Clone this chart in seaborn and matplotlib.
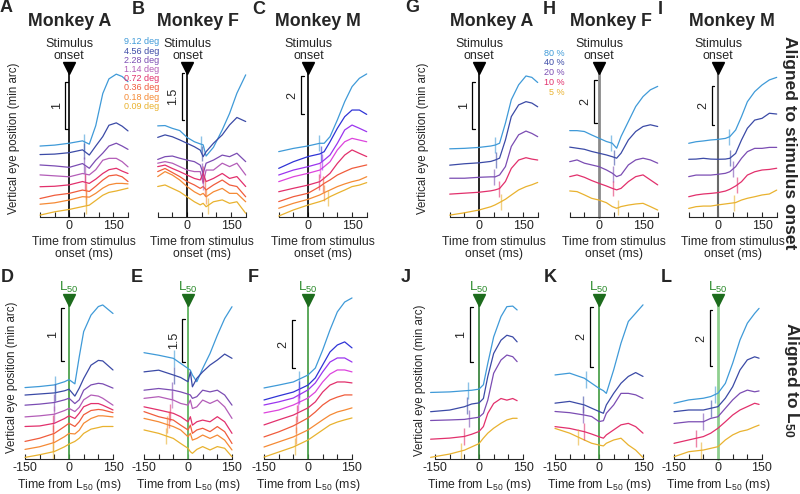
import numpy as np
import pandas as pd
import matplotlib
matplotlib.use("Agg")
import matplotlib.pyplot as plt
import seaborn as sns

sns.set_style("ticks")
plt.rcParams['font.family'] = ['Liberation Sans', 'DejaVu Sans']
plt.rcParams['mathtext.default'] = 'regular'

# ---------------- data (min arc, traces offset vertically as in the figure) -------------
size_labels = ["9.12 deg", "4.56 deg", "2.28 deg", "1.14 deg", "0.72 deg", "0.36 deg", "0.18 deg", "0.09 deg"]
contrast_labels = ["80 %", "40 %", "20 %", "10 %", "5 %"]

A_t = [-100, -50, 0, 45, 68, 90, 114, 135, 160, 180, 200]
A_vals = [
    [1.50, 1.52, 1.56, 1.61, 1.54, 1.93, 2.61, 2.92, 3.02, 2.97, 2.86],
    [1.32, 1.33, 1.36, 1.42, 1.31, 1.50, 1.70, 1.94, 1.99, 1.92, 1.82],
    [1.10, 1.08, 1.05, 1.13, 1.03, 1.20, 1.35, 1.50, 1.56, 1.50, 1.43],
    [0.89, 0.87, 0.85, 0.92, 0.89, 1.00, 1.20, 1.24, 1.24, 1.17, 1.06],
    [0.64, 0.65, 0.68, 0.75, 0.71, 0.80, 0.92, 1.00, 1.03, 0.97, 0.92],
    [0.39, 0.46, 0.50, 0.57, 0.54, 0.65, 0.78, 0.87, 0.89, 0.85, 0.75],
    [0.27, 0.30, 0.36, 0.43, 0.42, 0.50, 0.61, 0.68, 0.71, 0.71, 0.70],
    [0.04, 0.11, 0.16, 0.22, 0.25, 0.35, 0.46, 0.52, 0.55, 0.58, 0.61],
]
A_lat = [51, 51, 51, 53, 55, 56, 57, 57]

B_t = [-100, -75, -50, -25, 0, 25, 45, 55, 65, 90, 120, 145, 170, 200]
B_vals = [
    [2.93, 2.94, 2.85, 2.78, 2.56, 2.42, 2.35, 2.32, 1.96, 2.24, 2.80, 3.33, 3.98, 4.57],
    [2.56, 2.64, 2.58, 2.48, 2.37, 2.26, 2.15, 1.94, 2.10, 2.37, 2.64, 2.96, 3.20, 3.07],
    [1.85, 1.94, 1.96, 1.89, 1.83, 1.78, 1.67, 1.40, 1.73, 1.83, 1.99, 1.94, 2.05, 1.78],
    [1.73, 1.78, 1.73, 1.62, 1.51, 1.46, 1.46, 1.08, 1.51, 1.51, 1.73, 1.62, 1.73, 1.35],
    [1.62, 1.67, 1.56, 1.46, 1.35, 1.24, 1.19, 1.40, 1.14, 1.24, 1.40, 1.24, 1.30, 0.98],
    [1.46, 1.56, 1.43, 1.30, 1.14, 1.03, 0.92, 0.98, 0.87, 1.03, 1.19, 1.03, 0.98, 0.65],
    [1.30, 1.46, 1.35, 1.19, 0.98, 0.81, 0.71, 0.76, 0.65, 0.81, 0.92, 0.76, 0.76, 0.49],
    [0.98, 1.03, 0.92, 0.81, 0.65, 0.49, 0.39, 0.44, 0.33, 0.49, 0.55, 0.44, 0.49, 0.12],
]
B_lat = [47, 50, 52, 54, 56, 60, 64, 70]

C_t = [-100, -50, 0, 40, 55, 75, 100, 125, 150, 175, 200]
C_vals = [
    [3.44, 3.61, 3.74, 3.88, 3.88, 4.23, 5.11, 6.07, 6.86, 7.30, 7.53],
    [2.56, 2.91, 3.18, 3.32, 3.44, 3.96, 4.67, 5.28, 5.63, 5.63, 5.40],
    [2.21, 2.47, 2.65, 2.82, 3.00, 3.26, 3.88, 4.58, 4.84, 4.67, 4.49],
    [1.86, 2.12, 2.30, 2.47, 2.65, 2.91, 3.53, 3.96, 4.14, 4.05, 3.96],
    [1.33, 1.51, 1.68, 1.86, 2.04, 2.30, 2.82, 3.26, 3.53, 3.35, 3.18],
    [0.81, 1.07, 1.25, 1.60, 1.77, 1.95, 2.21, 2.39, 2.56, 2.65, 2.74],
    [0.46, 0.72, 0.93, 1.16, 1.28, 1.42, 1.60, 1.74, 1.86, 1.95, 2.12],
    [0.05, 0.37, 0.63, 0.81, 0.89, 1.07, 1.25, 1.42, 1.60, 1.68, 1.81],
]
C_lat = [39, 43, 47, 41, 39, 52, 55, 69]

G_t = [-100, -50, 0, 40, 55, 70, 90, 110, 135, 160, 180, 200]
G_vals = [
    [1.46, 1.47, 1.49, 1.52, 1.54, 1.58, 2.01, 2.51, 2.83, 3.02, 2.99, 2.88],
    [1.11, 1.14, 1.16, 1.19, 1.22, 1.26, 1.65, 2.15, 2.40, 2.47, 2.44, 2.36],
    [0.83, 0.83, 0.85, 0.86, 0.86, 0.90, 1.08, 1.51, 1.76, 1.84, 1.79, 1.72],
    [0.49, 0.51, 0.53, 0.56, 0.58, 0.61, 0.76, 1.04, 1.22, 1.27, 1.24, 1.22],
    [0.04, 0.09, 0.15, 0.22, 0.26, 0.31, 0.38, 0.47, 0.58, 0.65, 0.69, 0.74],
]
G_lat = [55, 57, 51, 68, 74]

H_t = [-100, -75, -50, -25, 0, 25, 45, 60, 75, 100, 125, 150, 175, 200]
H_vals = [
    [3.98, 3.98, 3.94, 3.78, 3.63, 3.48, 3.40, 3.17, 3.71, 4.40, 5.09, 5.55, 5.86, 6.02],
    [3.22, 3.17, 3.12, 3.02, 2.94, 2.86, 2.78, 2.71, 2.94, 3.55, 3.94, 4.17, 4.25, 4.17],
    [2.55, 2.63, 2.48, 2.40, 2.32, 2.17, 2.02, 1.86, 1.94, 2.40, 2.63, 2.71, 2.63, 2.48],
    [1.86, 1.94, 1.83, 1.68, 1.55, 1.43, 1.32, 1.25, 1.32, 1.63, 1.86, 1.94, 1.71, 1.48],
    [1.20, 1.17, 1.02, 0.86, 0.78, 0.66, 0.48, 0.40, 0.48, 0.55, 0.60, 0.63, 0.48, 0.32],
]
H_lat = [41, 52, 49, 47, 66]

I_t = [-100, -75, -50, -25, 0, 25, 40, 60, 80, 100, 125, 150, 175, 200]
I_vals = [
    [3.78, 3.86, 3.90, 3.95, 3.98, 4.03, 4.12, 4.46, 5.15, 5.91, 6.43, 6.77, 7.03, 7.16],
    [2.96, 2.97, 3.01, 2.97, 2.96, 2.97, 3.01, 3.26, 3.95, 4.55, 4.97, 5.06, 5.32, 5.28],
    [2.07, 2.15, 2.15, 2.15, 2.19, 2.24, 2.32, 2.58, 3.01, 3.35, 3.52, 3.52, 3.57, 3.57],
    [1.04, 1.13, 1.18, 1.21, 1.25, 1.33, 1.42, 1.59, 1.81, 2.15, 2.32, 2.41, 2.44, 2.50],
    [0.44, 0.53, 0.56, 0.56, 0.62, 0.67, 0.70, 0.74, 0.87, 0.96, 1.04, 1.13, 1.18, 1.38],
]
I_lat = [39, 41, 50, 66, 56]

D_t = [-150, -100, -50, -15, 0, 20, 35, 50, 75, 100, 115, 150]
D_vals = [
    [1.34, 1.36, 1.39, 1.45, 1.49, 1.41, 1.92, 2.39, 2.70, 2.86, 2.89, 2.73],
    [1.20, 1.22, 1.24, 1.28, 1.31, 1.18, 1.33, 1.51, 1.76, 1.85, 1.84, 1.67],
    [1.01, 1.03, 1.06, 1.11, 1.14, 1.04, 1.11, 1.29, 1.39, 1.42, 1.41, 1.33],
    [0.79, 0.81, 0.84, 0.91, 0.95, 0.89, 0.97, 1.11, 1.20, 1.18, 1.14, 1.01],
    [0.61, 0.62, 0.67, 0.76, 0.81, 0.76, 0.86, 0.98, 1.04, 1.04, 1.01, 0.92],
    [0.33, 0.39, 0.48, 0.61, 0.67, 0.61, 0.70, 0.83, 0.91, 0.93, 0.92, 0.87],
    [0.18, 0.23, 0.31, 0.42, 0.48, 0.47, 0.54, 0.67, 0.76, 0.81, 0.81, 0.79],
    [0.03, 0.08, 0.14, 0.23, 0.28, 0.33, 0.39, 0.48, 0.56, 0.59, 0.61, 0.61],
]
D_lat = [-49, -49, -52, -52, -55, -55, -55, -55]

E_t = [-150, -100, -50, -25, 0, 8, 15, 30, 50, 75, 100, 125, 150]
E_vals = [
    [3.77, 3.68, 3.57, 3.39, 3.21, 3.15, 2.98, 2.74, 3.21, 3.74, 4.39, 4.98, 5.40],
    [3.09, 3.15, 2.98, 2.89, 2.74, 3.09, 2.56, 2.86, 3.09, 3.33, 3.51, 3.72, 3.57],
    [2.44, 2.50, 2.44, 2.38, 2.30, 2.27, 2.15, 2.21, 2.44, 2.38, 2.44, 2.27, 1.91],
    [2.15, 2.21, 2.09, 1.97, 1.91, 2.09, 1.79, 1.85, 2.09, 1.97, 2.09, 1.85, 1.44],
    [1.85, 1.74, 1.62, 1.50, 1.32, 1.50, 1.20, 1.32, 1.38, 1.32, 1.50, 1.32, 0.91],
    [1.68, 1.50, 1.38, 1.20, 1.03, 1.20, 0.91, 1.03, 1.09, 0.97, 1.15, 0.97, 0.55],
    [1.44, 1.32, 1.15, 1.03, 0.79, 0.91, 0.67, 0.73, 0.85, 0.73, 0.85, 0.67, 0.32],
    [1.03, 0.91, 0.73, 0.55, 0.38, 0.26, 0.20, 0.34, 0.44, 0.32, 0.44, 0.38, 0.08],
]
E_lat = [-48, -48, -53, -53, -60, -65, -70, -74]

F_t = [-150, -100, -50, 0, 25, 50, 75, 100, 125, 150]
F_vals = [
    [2.96, 3.08, 3.21, 3.50, 3.79, 4.54, 5.38, 6.13, 6.54, 6.71],
    [2.46, 2.63, 2.79, 3.08, 3.38, 3.92, 4.46, 4.75, 4.88, 4.63],
    [2.25, 2.38, 2.54, 2.88, 3.17, 3.63, 4.04, 4.21, 4.21, 4.04],
    [1.92, 2.04, 2.25, 2.54, 2.79, 3.21, 3.54, 3.71, 3.71, 3.63],
    [1.42, 1.63, 1.83, 2.13, 2.38, 2.79, 3.08, 3.21, 3.21, 3.17],
    [0.92, 1.13, 1.38, 1.71, 1.96, 2.25, 2.46, 2.58, 2.67, 2.67],
    [0.50, 0.71, 0.92, 1.21, 1.42, 1.63, 1.83, 1.96, 2.04, 2.13],
    [0.08, 0.29, 0.50, 0.79, 1.00, 1.21, 1.42, 1.54, 1.63, 1.71],
]
F_lat = [-30, -30, -32, -35, -38, -40, -42, -45]

J_t = [-165, -100, -50, -25, 0, 15, 30, 50, 75, 95, 115, 130]
J_vals = [
    [1.21, 1.22, 1.24, 1.25, 1.27, 1.35, 1.74, 2.22, 2.59, 2.77, 2.78, 2.71],
    [0.86, 0.89, 0.95, 1.00, 1.02, 1.10, 1.50, 1.92, 2.16, 2.25, 2.22, 2.13],
    [0.70, 0.71, 0.72, 0.74, 0.76, 0.83, 1.07, 1.56, 1.80, 1.89, 1.86, 1.77],
    [0.36, 0.38, 0.41, 0.45, 0.50, 0.59, 0.83, 1.01, 1.10, 1.07, 1.10, 1.06],
    [0.03, 0.09, 0.16, 0.22, 0.28, 0.38, 0.47, 0.56, 0.65, 0.71, 0.74, 0.74],
]
J_lat = [-36, -42, -33, -50, -61]

K_t = [-150, -100, -50, -25, 0, 15, 25, 50, 75, 100, 125, 150]
K_vals = [
    [2.83, 2.89, 2.72, 2.55, 2.38, 2.30, 2.21, 3.00, 3.90, 4.63, 4.91, 5.19],
    [1.88, 1.94, 1.82, 1.71, 1.60, 1.54, 1.82, 2.21, 2.55, 2.78, 2.91, 2.78],
    [1.60, 1.56, 1.48, 1.43, 1.26, 1.29, 1.54, 1.82, 2.21, 2.21, 2.16, 2.04],
    [1.09, 1.03, 0.92, 0.84, 0.75, 0.70, 0.81, 0.98, 1.15, 1.20, 1.09, 0.87],
    [1.03, 0.87, 0.64, 0.53, 0.47, 0.44, 0.53, 0.64, 0.70, 0.47, 0.30, 0.05],
]
K_lat = [-43, -55, -55, -52, -72]

L_t = [-150, -100, -50, -25, 0, 25, 50, 75, 100, 125, 140]
L_vals = [
    [1.99, 2.11, 2.17, 2.23, 2.35, 2.70, 3.42, 4.25, 4.85, 5.20, 5.38],
    [1.69, 1.75, 1.75, 1.81, 1.87, 2.17, 2.58, 3.18, 3.54, 3.65, 3.60],
    [1.27, 1.33, 1.33, 1.45, 1.51, 1.81, 2.11, 2.35, 2.46, 2.40, 2.43],
    [0.56, 0.68, 0.80, 0.92, 1.10, 1.33, 1.57, 1.75, 1.87, 1.99, 1.95],
    [0.08, 0.26, 0.32, 0.38, 0.44, 0.68, 0.86, 0.98, 1.04, 1.15, 1.21],
]
L_lat = [-11, -23, -51, -74, -57]

# --------------- styling -----------------
palA = ['#3f9ad8', '#3b4aa6', '#7b4db3', '#b35db8', '#e2306c', '#f05c3c', '#f58a35', '#e9b22f']
palC = ['#3f9ad8', '#2f34d6', '#9b35ef', '#dd44dd', '#e2306c', '#f05c3c', '#f58a35', '#e9b22f']
pal5 = ['#3f9ad8', '#3b4aa6', '#7b4db3', '#e2306c', '#e9b22f']

W, H = 800, 494
fig = plt.figure(figsize=(8, 4.94), dpi=100)


def ftext(x, y, s, **kw):
    fig.text(x / W, 1 - y / H, s, **kw)


def panel(x0, row, t, vals, pal, ytop, bar, bar_label, lat, vcolor, vlw, tricolor):
    if row == 0:
        ax = fig.add_axes([x0 / W, 1 - 217 / H, 88 / W, 157 / H])
        xlim = (-100, 200)
        ticks = [-100, -50, 0, 50, 100, 150, 200]
        labels = ['', '', '0', '', '', '150', '']
        tri = 0.95
    else:
        ax = fig.add_axes([x0 / W, 1 - 459 / H, 88 / W, 169 / H])
        xlim = (-150, 150)
        ticks = [-150, -100, -50, 0, 50, 100, 150]
        labels = ['-150', '', '', '0', '', '', '150']
        tri = 0.94
    names = [f"s{i}" for i in range(len(vals))]
    df = pd.DataFrame({'t': np.tile(t, len(vals)),
                       'v': np.concatenate([np.asarray(v, float) for v in vals]),
                       'trace': np.repeat(names, len(t))})
    sns.lineplot(data=df, x='t', y='v', hue='trace', hue_order=names, palette=pal,
                 legend=False, ax=ax, linewidth=0.9, errorbar=None)
    for ln in ax.lines:
        ln.set_clip_on(False)
    ax.set_xlim(*xlim)
    ax.set_ylim(0, ytop)
    # latency marks
    h = 0.05 * ytop
    for i, lt in enumerate(lat):
        yc = np.interp(lt, t, vals[i])
        ax.vlines(lt, yc - h, yc + h, color=pal[i], lw=1.0, alpha=0.6)
    # alignment line + triangle
    ax.plot([0, 0], [0, tri * ytop], color=vcolor, lw=vlw, zorder=1, clip_on=False)
    ax.plot([0], [tri * ytop], marker='v', ms=8.5, color=tricolor, clip_on=False, zorder=5)
    # scale bar
    bt, y0, y1 = bar
    ax.plot([bt + 9, bt, bt, bt + 9], [y0, y0, y1, y1], color='black', lw=0.9, clip_on=False)
    ax.text(bt - 9, (y0 + y1) / 2, bar_label, rotation=90, ha='right', va='center', fontsize=9)
    # axes styling
    sns.despine(ax=ax, left=True)
    ax.set_yticks([])
    ax.set_xticks(ticks)
    ax.set_xticklabels(labels)
    ax.tick_params(axis='x', direction='in', length=3.5, width=0.8, labelsize=9, pad=2.5)
    ax.spines['bottom'].set_linewidth(0.8)
    ax.set_xlabel('')
    ax.set_ylabel('')
    return ax


# top row: aligned to stimulus onset
panel(40, 0, A_t, A_vals, palA, 157 / 47.3, (-14, 1.86, 2.86), '1', A_lat, 'black', 1.2, 'black')
panel(157.7, 0, B_t, B_vals, palA, 157 / 31.1, (-18, 3.12, 4.62), '1.5', B_lat, 'black', 1.2, 'black')
panel(278.7, 0, C_t, C_vals, palC, 157 / 19.0, (-24, 5.42, 7.42), '2', C_lat, 'black', 1.2, 'black')
panel(449.7, 0, G_t, G_vals, pal5, 157 / 46.7, (-23, 1.89, 2.89), '1', G_lat, 'black', 1.2, 'black')
panel(569.7, 0, H_t, H_vals, pal5, 157 / 21.7, (-16, 4.32, 6.32), '2', H_lat, '#8a8a8a', 2.0, 'black')
panel(688.7, 0, I_t, I_vals, pal5, 157 / 19.5, (-22, 4.72, 6.72), '2', I_lat, '#6a6a6a', 1.5, 'black')

# bottom row: aligned to L50
panel(25, 1, D_t, D_vals, palA, 169 / 53.3, (-26, 1.83, 2.83), '1', D_lat, '#3f9a3f', 1.2, '#1c6b1c')
panel(144, 1, E_t, E_vals, palA, 169 / 28.2, (-19, 3.45, 4.95), '1.5', E_lat, '#5fb35f', 1.3, '#1c6b1c')
panel(264, 1, F_t, F_vals, palC, 169 / 24.0, (-55, 3.79, 5.79), '2', F_lat, '#3f9a3f', 1.2, '#1c6b1c')
panel(435, 1, J_t, J_vals, pal5, 169 / 55.0, (-31, 1.77, 2.77), '1', J_lat, '#2e7d32', 1.2, '#1c6b1c')
panel(555, 1, K_t, K_vals, pal5, 169 / 29.7, (-30, 3.11, 5.11), '2', K_lat, '#3f9a3f', 1.2, '#1c6b1c')
panel(674, 1, L_t, L_vals, pal5, 169 / 28.0, (-28, 3.32, 5.32), '2', L_lat, '#8fcf8f', 2.0, '#1c6b1c')

# ---------------- texts ----------------
for x, s in [(70, 'Monkey A'), (198, 'Monkey F'), (318, 'Monkey M'),
             (492, 'Monkey A'), (611, 'Monkey F'), (732, 'Monkey M')]:
    ftext(x, 22, s, ha='center', va='center', fontsize=12.8, fontweight='bold')

for x, y, s in [(6.5, 8, 'A'), (138.5, 9, 'B'), (259, 9, 'C'), (412, 8, 'G'), (549, 9, 'H'), (660, 9, 'I'),
                (7, 278, 'D'), (137, 278, 'E'), (253, 278, 'F'), (406, 278, 'J'), (550, 278, 'K'), (666, 278, 'L')]:
    ftext(x, y, s, ha='center', va='center', fontsize=13, fontweight='bold')

for x in [69.3, 187.7, 308.7, 479.3, 599.3, 718.3]:
    ftext(x, 50, 'Stimulus\nonset', ha='center', va='center', fontsize=9, linespacing=1.1)
    ftext(x + 14.7, 248, 'Time from stimulus\nonset (ms)', ha='center', va='center', fontsize=8.8, linespacing=1.1)

for x in [69, 188, 308, 479, 599, 718]:
    ftext(x, 287, 'L$_{50}$', ha='center', va='center', fontsize=9.5, color='#2a8a2a')
    ftext(x, 484.5, 'Time from L$_{50}$ (ms)', ha='center', va='center', fontsize=8.8)

for x, y in [(14, 138), (423, 138), (12, 377), (420, 380)]:
    ftext(x, y, 'Vertical eye position (min arc)', rotation=90, ha='center', va='center', fontsize=8.3)

for i, s in enumerate(size_labels):
    ftext(124, 42 + i * 9.2, s, ha='left', va='center', fontsize=6.5, color=palA[i])
for i, s in enumerate(contrast_labels):
    ftext(565, 53 + i * 9.8, s, ha='right', va='center', fontsize=6.5, color=pal5[i])

ftext(790, 143, 'Aligned to stimulus onset', rotation=-90, ha='center', va='center', fontsize=12.5, fontweight='bold')
ftext(791, 380, 'Aligned to L$_{50}$', rotation=-90, ha='center', va='center', fontsize=12.5, fontweight='bold')

fig.savefig('out.png', dpi=100)
